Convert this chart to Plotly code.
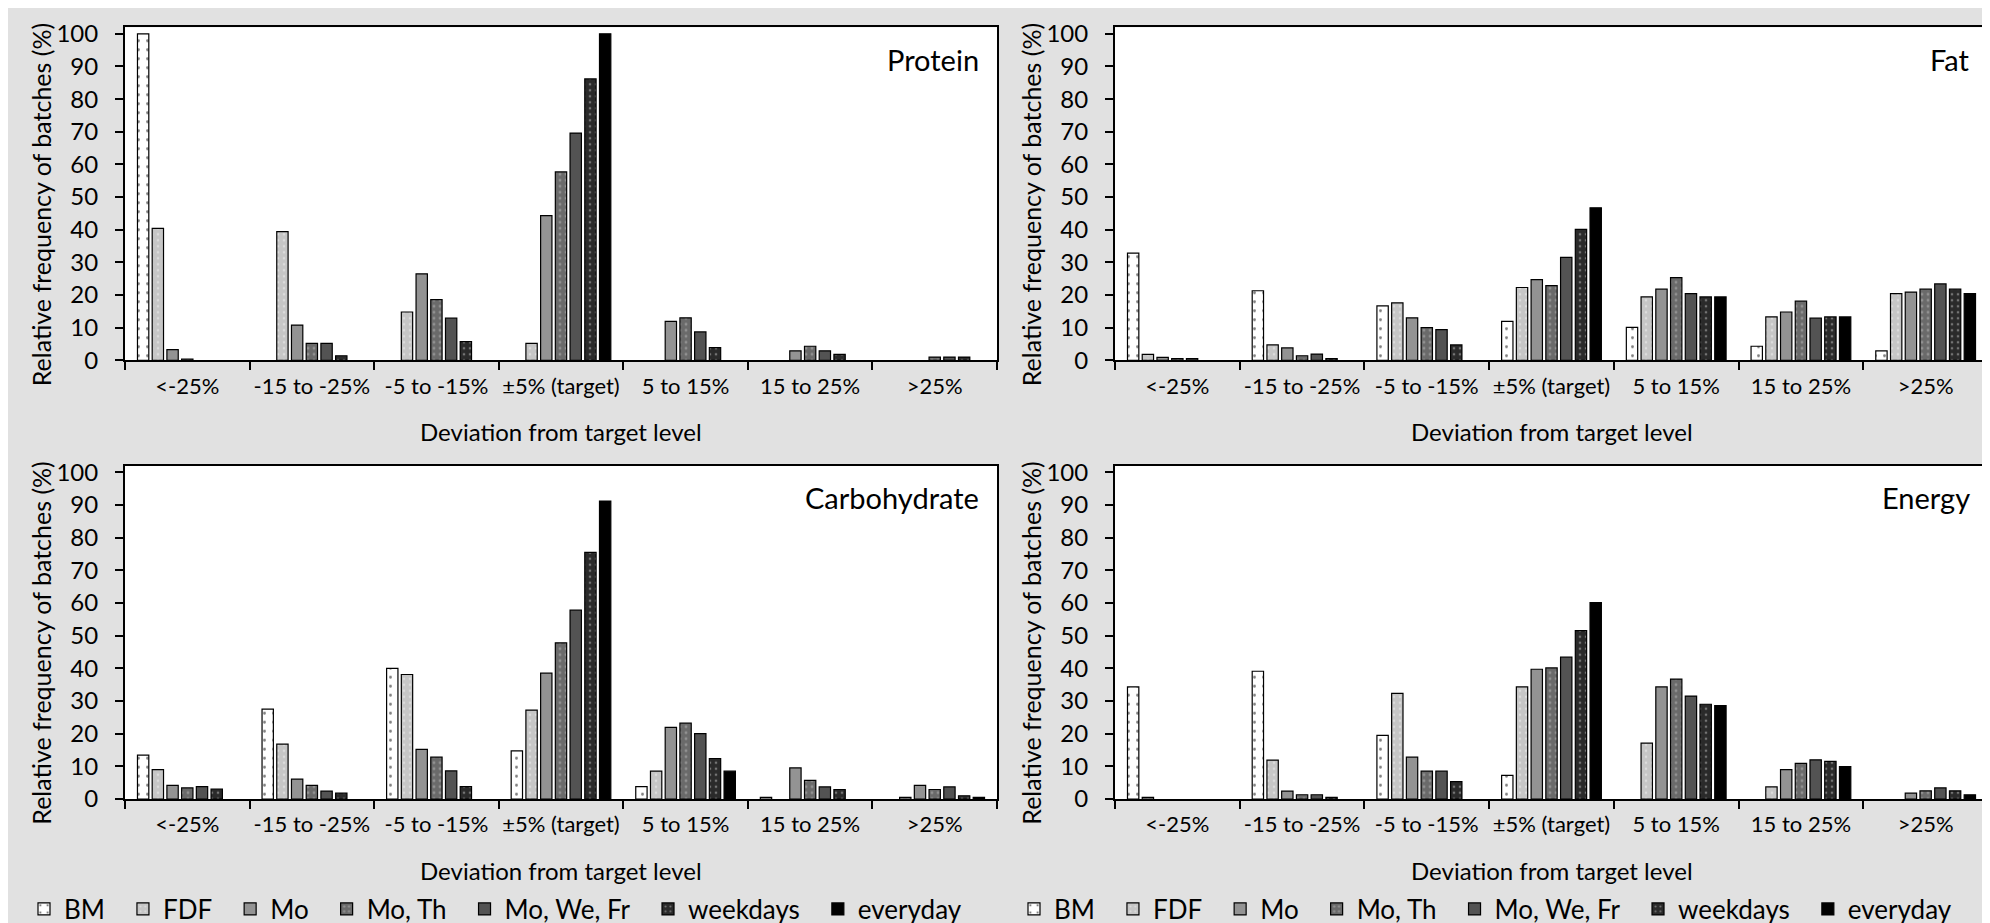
import plotly.graph_objects as go

W, H = 1990, 923

CATEGORIES = ["<-25%", "-15 to -25%", "-5 to -15%", "±5% (target)", "5 to 15%", "15 to 25%", ">25%"]
SERIES = ["BM", "FDF", "Mo", "Mo, Th", "Mo, We, Fr", "weekdays", "everyday"]
Y_TICKS = [0, 10, 20, 30, 40, 50, 60, 70, 80, 90, 100]

# rows follow SERIES order, columns follow CATEGORIES order
protein = [
    [100, 0, 0, 0, 0, 0, 0],
    [40.4, 39.4, 14.8, 5.2, 0, 0, 0],
    [3.3, 10.8, 26.5, 44.3, 11.9, 2.9, 0],
    [0.4, 5.2, 18.6, 57.7, 13.0, 4.3, 1.0],
    [0, 5.2, 12.9, 69.6, 8.7, 2.9, 1.0],
    [0, 1.4, 5.7, 86.2, 3.9, 1.8, 1.0],
    [0, 0, 0, 100, 0, 0, 0],
]
fat = [
    [32.8, 21.3, 16.7, 11.9, 10.1, 4.3, 2.9],
    [1.8, 4.7, 17.6, 22.3, 19.4, 13.3, 20.4],
    [0.9, 3.8, 13.0, 24.7, 21.8, 14.8, 20.9],
    [0.5, 1.4, 10.0, 22.9, 25.3, 18.1, 21.8],
    [0.5, 1.9, 9.4, 31.5, 20.4, 12.9, 23.4],
    [0, 0.5, 4.7, 40.1, 19.4, 13.3, 21.8],
    [0, 0, 0, 46.7, 19.4, 13.3, 20.4],
]
carbohydrate = [
    [13.4, 27.5, 40.0, 14.7, 3.8, 0.5, 0],
    [9.0, 16.8, 38.1, 27.2, 8.5, 0, 0.5],
    [4.2, 6.1, 15.2, 38.5, 21.9, 9.5, 4.2],
    [3.4, 4.2, 12.8, 47.8, 23.2, 5.7, 2.9],
    [3.8, 2.4, 8.6, 57.8, 20.0, 3.7, 3.7],
    [3.0, 1.8, 3.8, 75.5, 12.4, 2.9, 1.0],
    [0, 0, 0, 91.2, 8.5, 0, 0.5],
]
energy = [
    [34.3, 39.1, 19.5, 7.2, 0, 0, 0],
    [0.5, 11.9, 32.3, 34.3, 17.1, 3.7, 0],
    [0, 2.4, 12.8, 39.7, 34.3, 9.0, 1.8],
    [0, 1.3, 8.5, 40.1, 36.7, 10.9, 2.5],
    [0, 1.3, 8.5, 43.4, 31.5, 12.0, 3.4],
    [0, 0.5, 5.3, 51.5, 29.0, 11.5, 2.5],
    [0, 0, 0, 60.1, 28.6, 9.9, 1.3],
]

STYLES = [
    dict(color="#ffffff", pattern=dict(shape=".", fgcolor="#000000", size=9, solidity=0.08)),
    dict(color="#c6c6c6", pattern=dict(shape=".", fgcolor="#f2f2f2", size=6, solidity=0.15)),
    dict(color="#939393"),
    dict(color="#6a6a6a", pattern=dict(shape=".", fgcolor="#b8b8b8", size=6, solidity=0.18)),
    dict(color="#535353"),
    dict(color="#2a2a2a", pattern=dict(shape=".", fgcolor="#bdbdbd", size=6, solidity=0.15)),
    dict(color="#000000"),
]

FONT = "Lato"

def px_x(x):
    return x / W

def px_y(y):
    return 1 - y / H

# panel geometry in pixels: (left, right, top, bottom)
PANELS = [
    ("Protein", protein, (117, 989, 19.3, 352.3), "x", "y", "legend"),
    ("Fat", fat, (1107, 1980, 19.3, 352.3), "x2", "y2", "legend2"),
    ("Carbohydrate", carbohydrate, (117, 989, 457.7, 791), "x3", "y3", None),
    ("Energy", energy, (1107, 1980, 457.7, 791), "x4", "y4", None),
]

fig = go.Figure()
layout = dict(
    width=W, height=H,
    margin=dict(l=0, r=0, t=0, b=0, autoexpand=False),
    paper_bgcolor="#e1e1e1",
    plot_bgcolor="#ffffff",
    barmode="group",
    bargap=0.173,
    bargroupgap=0.23,
    font=dict(family=FONT, color="#000000"),
    annotations=[],
)

for i, (name, data, (l, r, t, b), xa, ya, leg) in enumerate(PANELS):
    for s, series in enumerate(SERIES):
        st = STYLES[s]
        marker = dict(color=st["color"], line=dict(color="#000000", width=1.2))
        if "pattern" in st:
            marker["pattern"] = st["pattern"]
        yvals = [v if v > 0 else None for v in data[s]]
        fig.add_trace(go.Bar(
            x=CATEGORIES, y=yvals, name=series + "\u2002",
            marker=marker, xaxis=xa, yaxis=ya,
            showlegend=leg is not None,
            legend=leg if leg else "legend",
        ))
    xkey = "xaxis" if xa == "x" else "xaxis" + xa[1:]
    ykey = "yaxis" if ya == "y" else "yaxis" + ya[1:]
    layout[xkey] = dict(
        domain=[px_x(l), px_x(r)], anchor=ya, type="category",
        categoryorder="array", categoryarray=CATEGORIES, automargin=False,
        showline=True, linecolor="#000000", linewidth=2, mirror=True,
        ticks="outside", tickson="boundaries", ticklen=8, tickwidth=2, tickcolor="#000000",
        tickfont=dict(size=22, family=FONT), ticklabelstandoff=5, tickangle=0,
        showgrid=False, zeroline=False, fixedrange=True,
    )
    layout[ykey] = dict(
        domain=[px_y(b), px_y(t)], anchor=xa, range=[0, 102], automargin=False,
        tickvals=Y_TICKS, ticktext=[str(v) for v in Y_TICKS],
        showline=True, linecolor="#000000", linewidth=2, mirror=True,
        ticks="outside", ticklen=8, tickwidth=2, tickcolor="#000000",
        tickfont=dict(size=24, family=FONT), ticklabelstandoff=12,
        showgrid=False, zeroline=False, fixedrange=True,
    )
    # panel title
    layout["annotations"].append(dict(
        text=name, xref="paper", yref="paper",
        x=px_x(r - 16), y=px_y(t + 32), xanchor="right", yanchor="middle",
        showarrow=False, font=dict(size=29, family=FONT, color="#000000"),
    ))
    # y axis title
    layout["annotations"].append(dict(
        text="Relative frequency of batches (%)", xref="paper", yref="paper",
        x=px_x(l - 84), y=px_y(t + 178), xanchor="center", yanchor="middle",
        textangle=-90, showarrow=False, font=dict(size=25, family=FONT, color="#000000"),
    ))
    # x axis title
    layout["annotations"].append(dict(
        text="Deviation from target level", xref="paper", yref="paper",
        x=px_x((l + r) / 2), y=px_y(b + 71), xanchor="center", yanchor="middle",
        showarrow=False, font=dict(size=24, family=FONT, color="#000000"),
    ))

legend_common = dict(
    orientation="h", yanchor="middle", xanchor="left",
    bgcolor="rgba(0,0,0,0)", font=dict(size=26, family=FONT, color="#000000"),
    traceorder="normal", tracegroupgap=0,
)
layout["legend"] = dict(legend_common, x=px_x(16), y=px_y(901))
layout["legend2"] = dict(legend_common, x=px_x(1006), y=px_y(901))

fig.update_layout(**layout)
fig.write_html("out.html")
